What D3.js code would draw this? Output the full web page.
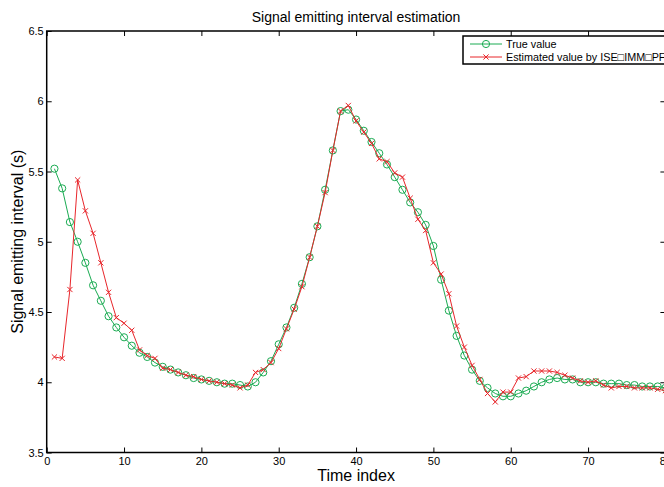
<!DOCTYPE html>
<html>
<head>
<meta charset="utf-8">
<script src="https://cdn.jsdelivr.net/npm/d3@7"></script>
<style>
  body { margin: 0; background: #fff; }
  svg { display: block; font-family: "Liberation Sans", Arial, sans-serif; }
</style>
</head>
<body>
<script>
const width = 664
const height = 487
const margin = { top: 31, right: -1.4, bottom: 34.5, left: 46.7 }

const title = 'Signal emitting interval estimation'
const xLabel = 'Time index'
const yLabel = 'Signal emitting interval (s)'
const seriesNames = ['True value', 'Estimated value by ISE\u25A1IMM\u25A1PF']

const xTicks = [0, 10, 20, 30, 40, 50, 60, 70, 80]
const yTicks = [3.5, 4, 4.5, 5, 5.5, 6, 6.5]

const timeIndex = d3.range(1, 81)

const trueValue = [
  5.52, 5.38, 5.14, 5.0, 4.85, 4.69, 4.58, 4.47, 4.39, 4.32,
  4.26, 4.21, 4.18, 4.14, 4.11, 4.09, 4.07, 4.05, 4.03, 4.02,
  4.01, 4.0, 3.99, 3.99, 3.98, 3.97, 4.0, 4.07, 4.15, 4.27,
  4.39, 4.53, 4.7, 4.89, 5.11, 5.37, 5.65, 5.93, 5.94, 5.87,
  5.79, 5.71, 5.63, 5.55, 5.46, 5.37, 5.28, 5.21, 5.12, 4.97,
  4.73, 4.51, 4.33, 4.19, 4.09, 4.01, 3.96, 3.92, 3.9, 3.9,
  3.92, 3.94, 3.97, 4.0, 4.02, 4.03, 4.02, 4.02, 4.0, 4.0,
  4.0, 3.99, 3.99, 3.99, 3.98, 3.98, 3.97, 3.97, 3.97, 3.96
]

const estimated = [
  4.18, 4.17, 4.66, 5.44, 5.22, 5.06, 4.85, 4.64, 4.46, 4.42,
  4.37, 4.23, 4.19, 4.17, 4.1, 4.09, 4.07, 4.05, 4.04, 4.02,
  4.01, 4.0, 3.99, 3.98, 3.96, 3.98, 4.07, 4.09, 4.14, 4.24,
  4.38, 4.52, 4.68, 4.89, 5.11, 5.35, 5.65, 5.93, 5.97, 5.86,
  5.78, 5.7, 5.59, 5.57, 5.49, 5.46, 5.31, 5.16, 5.08, 4.85,
  4.77, 4.63, 4.4, 4.25, 4.12, 4.02, 3.92, 3.86, 3.93, 3.93,
  4.03, 4.04, 4.08, 4.08, 4.08, 4.07, 4.05, 4.03, 4.01, 4.0,
  4.01, 3.98, 3.96, 3.97, 3.97, 3.96, 3.96, 3.96, 3.95, 3.94
]

const green = '#1aab52'
const red = '#e8262b'

const svg = d3.select('body').append('svg')
  .attr('width', width)
  .attr('height', height)

const x = d3.scaleLinear()
  .domain([0, 80])
  .range([margin.left, width - margin.right])

const y = d3.scaleLinear()
  .domain([3.5, 6.5])
  .range([height - margin.bottom, margin.top])

const x0 = x.range()[0], x1 = x.range()[1]
const y0 = y.range()[0], y1 = y.range()[1]

// axes, matlab style: ticks inward on all four sides
const axisStyle = g => {
  g.select('.domain').remove()
  g.selectAll('.tick line').attr('stroke', '#000').attr('stroke-width', 1)
  g.selectAll('.tick text').attr('fill', '#000').attr('font-size', 11)
}

svg.append('g')
  .attr('transform', `translate(0,${y0})`)
  .call(d3.axisBottom(x).tickValues(xTicks).tickSizeInner(-5).tickSizeOuter(0).tickPadding(5))
  .call(axisStyle)

svg.append('g')
  .attr('transform', `translate(0,${y1})`)
  .call(d3.axisTop(x).tickValues(xTicks).tickSizeInner(-5).tickSizeOuter(0).tickFormat(() => ''))
  .call(axisStyle)

svg.append('g')
  .attr('transform', `translate(${x0},0)`)
  .call(d3.axisLeft(y).tickValues(yTicks).tickFormat(d3.format('')).tickSizeInner(-5).tickSizeOuter(0).tickPadding(3))
  .call(axisStyle)

svg.append('g')
  .attr('transform', `translate(${x1},0)`)
  .call(d3.axisRight(y).tickValues(yTicks).tickSizeInner(-5).tickSizeOuter(0).tickFormat(() => ''))
  .call(axisStyle)

svg.append('rect')
  .attr('x', x0).attr('y', y1)
  .attr('width', x1 - x0).attr('height', y0 - y1)
  .attr('fill', 'none').attr('stroke', '#000').attr('stroke-width', 1.5)

// series
const series = [
  { name: seriesNames[0], values: trueValue, color: green, marker: 'circle' },
  { name: seriesNames[1], values: estimated, color: red, marker: 'cross' }
]

const line = d3.line()
  .x((d, i) => x(timeIndex[i]))
  .y(d => y(d))

const drawMarker = (g, type, color) => {
  if (type === 'circle') {
    g.append('circle').attr('r', 3.6)
      .attr('fill', 'none').attr('stroke', color).attr('stroke-width', 1)
  } else {
    g.append('path').attr('d', 'M-2.6,-2.6L2.6,2.6M-2.6,2.6L2.6,-2.6')
      .attr('fill', 'none').attr('stroke', color).attr('stroke-width', 1)
  }
}

series.forEach(s => {
  const g = svg.append('g')
  g.append('path')
    .datum(s.values)
    .attr('d', line)
    .attr('fill', 'none')
    .attr('stroke', s.color)
    .attr('stroke-width', 1)
  g.selectAll('.mk')
    .data(s.values)
    .join('g')
    .attr('class', 'mk')
    .attr('transform', (d, i) => `translate(${x(timeIndex[i])},${y(d)})`)
    .each(function () { drawMarker(d3.select(this), s.marker, s.color) })
})

// labels
svg.append('text')
  .attr('x', (x0 + x1) / 2).attr('y', 22)
  .attr('text-anchor', 'middle').attr('font-size', 14)
  .text(title)

svg.append('text')
  .attr('x', (x0 + x1) / 2).attr('y', 481)
  .attr('text-anchor', 'middle').attr('font-size', 16)
  .text(xLabel)

svg.append('text')
  .attr('transform', `translate(23,${(y0 + y1) / 2}) rotate(-90)`)
  .attr('text-anchor', 'middle').attr('font-size', 16)
  .text(yLabel)

// legend
const legend = svg.append('g').attr('transform', 'translate(463,36)')
legend.append('rect')
  .attr('width', 206).attr('height', 28)
  .attr('fill', '#fff').attr('stroke', '#000').attr('stroke-width', 1.5)

series.forEach((s, i) => {
  const row = legend.append('g').attr('transform', `translate(0,${8 + i * 13})`)
  row.append('line')
    .attr('x1', 7).attr('x2', 39)
    .attr('stroke', s.color).attr('stroke-width', 1)
  const m = row.append('g').attr('transform', 'translate(23,0)')
  drawMarker(m, s.marker, s.color)
  row.append('text')
    .attr('x', 43).attr('dy', '0.35em')
    .attr('font-size', 10.8)
    .text(s.name)
})
</script>
</body>
</html>
